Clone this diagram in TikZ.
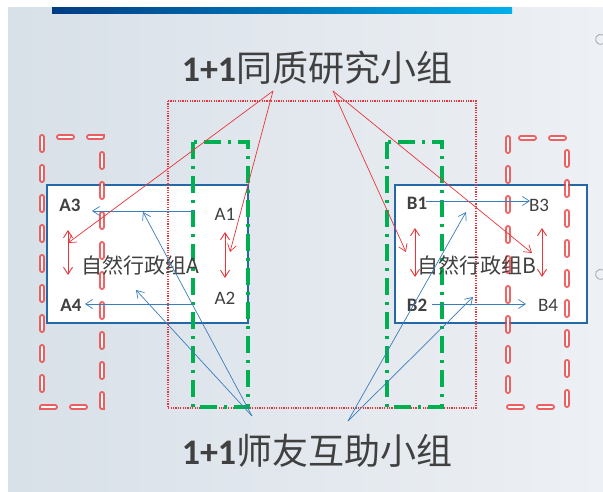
\documentclass[tikz,border=0pt]{standalone}
\usepackage{fontspec}
\setmainfont{Carlito}
\newfontfamily\cjk{Noto Sans CJK SC}
\usetikzlibrary{arrows.meta}
\definecolor{txt}{HTML}{404040}
\definecolor{bluel}{HTML}{3A7DBA}
\definecolor{boxb}{HTML}{2468A8}
\definecolor{redl}{HTML}{E8353A}
\definecolor{grn}{HTML}{00B050}
\definecolor{bgL}{HTML}{D8E0E8}
\definecolor{bgR}{HTML}{EDF0F4}
\definecolor{glow}{HTML}{F03C3C}
\begin{document}
\begin{tikzpicture}[x=1pt,y=-1pt,
  title/.style={font=\fontsize{36}{36}\selectfont, text=txt, inner sep=0pt},
  lblb/.style={font=\fontsize{19}{19}\selectfont\bfseries, text=txt, inner sep=0pt},
  lblr/.style={font=\fontsize{19}{19}\selectfont, text=txt, inner sep=0pt},
  grp/.style={font=\cjk\fontsize{21}{21}\selectfont, text=txt, inner sep=0pt},
  natbox/.style={draw=boxb, line width=1.3pt, fill=white},
  redarr/.style={draw=redl, line width=0.7pt, -{Straight Barb[length=7pt,width=9pt]}},
  redda/.style={draw=redl, line width=0.9pt, {Straight Barb[length=7pt,width=9pt]}-{Straight Barb[length=7pt,width=9pt]}},
  bluearr/.style={draw=bluel, line width=0.7pt, -{Straight Barb[length=7pt,width=9pt]}},
  dotframe/.style={draw=redl, line width=1.2pt, dash pattern=on 1.2pt off 1.2pt},
  greenframe/.style={draw=grn, line width=4pt, dash pattern=on 17pt off 7pt on 3pt off 7pt},
  glowout/.style={draw=glow, line width=6pt, opacity=0.8, dash pattern=on 13pt off 17pt, line cap=round},
  glowin/.style={draw=white, line width=2.4pt, dash pattern=on 13pt off 17pt, line cap=round}
]
\useasboundingbox (0,0) rectangle (603,492);
\fill[white] (0,0) rectangle (603,492);
\shade[left color=bgL, right color=bgR] (8,8) rectangle (603,492);
\shade[left color={rgb,255:red,0;green,60;blue,130}, right color={rgb,255:red,0;green,175;blue,235}] (52,8) rectangle (512,14);
% stray glyph fragments at right edge
\draw[gray!70, line width=0.8pt] (603,35) arc[start angle=60, end angle=300, radius=5pt];
\draw[gray!70, line width=0.8pt] (603,270) arc[start angle=60, end angle=300, radius=5pt];

% titles
\node[title] (top) at (317,68) {\bfseries 1+1\cjk\mdseries 同质研究小组};
\node[title] (bot) at (317,451) {\bfseries 1+1\cjk\mdseries 师友互助小组};

% boxes
\node[natbox, minimum width=201pt, minimum height=138pt, inner sep=0pt] (boxA) at (147.5,254) {};
\node[natbox, minimum width=192pt, minimum height=138pt, inner sep=0pt] (boxB) at (491,254) {};

% frames
\draw[dotframe] (168,101) rectangle (476,408);
\draw[greenframe] (193,142) rectangle (248,407);
\draw[greenframe] (387,142) rectangle (442,407);
\draw[glowout] (42,137) rectangle (102,407);
\draw[glowin] (42,137) rectangle (102,407);
\draw[glowout] (508,138) rectangle (567,407);
\draw[glowin] (508,138) rectangle (567,407);

% labels
\node[lblb] (A3) at (70,205) {A3};
\node[lblb] (A4) at (71,305) {A4};
\node[lblr] (A1) at (225,214) {A1};
\node[lblr] (A2) at (225,298) {A2};
\node[lblb] (B1) at (417,203) {B1};
\node[lblb] (B2) at (417,305) {B2};
\node[lblr] (B3) at (539,205) {B3};
\node[lblr] (B4) at (548,305) {B4};
\node[grp] (gA) at (140,265) {自然行政组A};
\node[grp] (gB) at (477,265) {自然行政组B};

% coordinates
\coordinate (t1) at (273,91);
\coordinate (t2) at (333,91);
\coordinate (b1) at (252,416);
\coordinate (b2) at (348,421);
\coordinate (rA3) at (68,243);
\coordinate (rA1) at (230,252);
\coordinate (rB1) at (406,252);
\coordinate (rB3) at (532,253);
\coordinate (pA1) at (143,212);
\coordinate (pA2) at (136,290);
\coordinate (pB1) at (466,212);
\coordinate (pB2) at (473,297);
\coordinate (sA1) at (195,211);
\coordinate (eA3) at (92,211);
\coordinate (sA2) at (192,304);
\coordinate (eA4) at (85,304);
\coordinate (sB1) at (426,201);
\coordinate (eB3) at (530,201);
\coordinate (sB2) at (432,304);
\coordinate (eB4) at (526,304);
\coordinate (dL1) at (68,230); \coordinate (dL2) at (68,275);
\coordinate (dA1) at (225,232); \coordinate (dA2) at (225,278);
\coordinate (dB1) at (415,228); \coordinate (dB2) at (415,277);
\coordinate (dR1) at (542,228); \coordinate (dR2) at (542,277);

% horizontal blue arrows
\draw[bluearr] (sA1) -- (eA3);
\draw[bluearr] (sA2) -- (eA4);
\draw[bluearr] (sB1) -- (eB3);
\draw[bluearr] (sB2) -- (eB4);

% red double arrows
\draw[redda] (dL1) -- (dL2);
\draw[redda] (dA1) -- (dA2);
\draw[redda] (dB1) -- (dB2);
\draw[redda] (dR1) -- (dR2);

% red lines from top title
\draw[redarr] (t1) -- (rA3);
\draw[redarr] (t1) -- (rA1);
\draw[redarr] (t2) -- (rB1);
\draw[redarr] (t2) -- (rB3);

% blue lines from bottom title
\draw[bluearr] (b1) -- (pA1);
\draw[bluearr] (b1) -- (pA2);
\draw[bluearr] (b2) -- (pB1);
\draw[bluearr] (b2) -- (pB2);
\end{tikzpicture}
\end{document}
